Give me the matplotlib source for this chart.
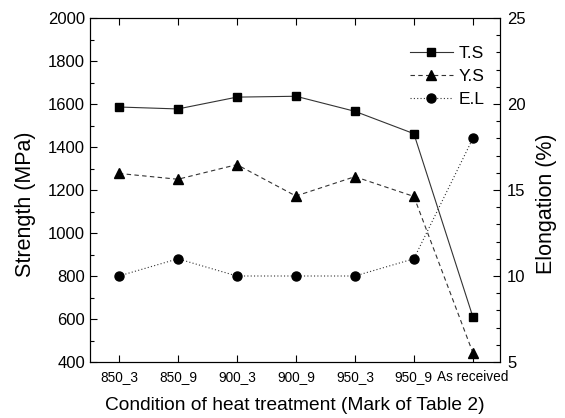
import matplotlib
matplotlib.use("Agg")
import matplotlib.pyplot as plt
from matplotlib.ticker import MultipleLocator

plt.rcParams['font.family'] = ['Liberation Sans', 'DejaVu Sans']

categories = ["850_3", "850_9", "900_3", "900_9", "950_3", "950_9", "As received"]
ts = [1586, 1577, 1632, 1636, 1566, 1462, 610]
ys = [1277, 1250, 1318, 1172, 1262, 1170, 443]
el = [10, 11, 10, 10, 10, 11, 18]

x = list(range(len(categories)))

fig = plt.figure(figsize=(5.65, 4.18), dpi=100)
ax = fig.add_axes([90/565, 1 - 362/418, 410/565, 344/418])
ax2 = ax.twinx()

lc = '#333333'
l1, = ax.plot(x, ts, color=lc, lw=0.8, ls='-', marker='s', ms=6, mfc='black', mec='black', label='T.S')
l2, = ax.plot(x, ys, color=lc, lw=0.8, ls=(0, (4, 3)), marker='^', ms=7, mfc='black', mec='black', label='Y.S')
l3, = ax2.plot(x, el, color=lc, lw=0.8, ls=(0, (1, 2)), marker='o', ms=6.5, mfc='black', mec='black', label='E.L')

ax.set_xlim(-0.49, 6.46)
ax.set_ylim(400, 2000)
ax2.set_ylim(5, 25)

ax.set_xticks(x)
ax.set_xticklabels(categories, fontsize=9.8)
ax.yaxis.set_major_locator(MultipleLocator(200))
ax.yaxis.set_minor_locator(MultipleLocator(100))
ax2.yaxis.set_major_locator(MultipleLocator(5))
ax2.yaxis.set_minor_locator(MultipleLocator(1))

ax.tick_params(axis='x', direction='in', top=True, length=5, width=0.8, pad=6)
ax.tick_params(axis='y', which='major', direction='in', length=5, width=0.8, labelsize=12)
ax.tick_params(axis='y', which='minor', direction='in', length=3, width=0.8)
ax2.tick_params(axis='y', which='major', direction='in', length=5, width=0.8, labelsize=12, pad=5)
ax2.tick_params(axis='y', which='minor', direction='in', length=3, width=0.8)

for a in (ax, ax2):
    for s in a.spines.values():
        s.set_linewidth(0.8)

ax.set_ylabel("Strength (MPa)", fontsize=15.5)
ax.yaxis.set_label_coords(-0.132, 0.459)
ax2.set_ylabel("Elongation (%)", fontsize=15.5)
ax2.yaxis.set_label_coords(1.088, 0.459)
ax.set_xlabel("Condition of heat treatment (Mark of Table 2)", fontsize=13.8, labelpad=9)

leg = ax.legend(handles=[l1, l2, l3], loc='upper right', bbox_to_anchor=(1.0, 0.965),
                frameon=False, fontsize=12.5, numpoints=1, handlelength=2.5,
                handletextpad=0.3, labelspacing=0.45)

fig.savefig("out.png", dpi=100)
